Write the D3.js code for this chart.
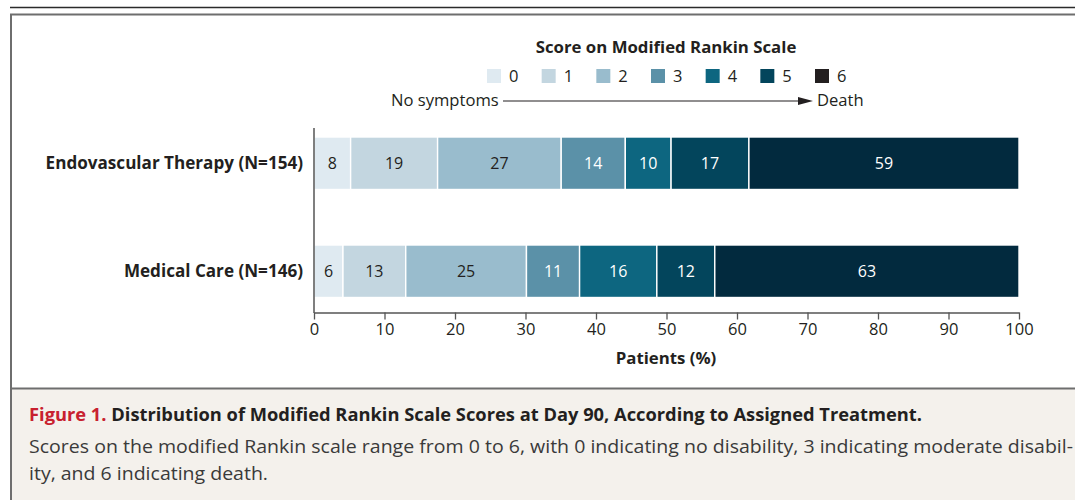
<!DOCTYPE html>
<html>
<head>
<meta charset="utf-8">
<script src="https://d3js.org/d3.v7.min.js"></script>
<style>
  html, body { margin: 0; padding: 0; background: #fff; }
  svg text { font-family: "Open Sans", "DejaVu Sans", sans-serif; fill: #231f20; }
</style>
</head>
<body>
<div id="chart"></div>
<script>
// data (counts of patients per mRS score)
const groups = ["Endovascular Therapy (N=154)", "Medical Care (N=146)"];
const totals = [154, 146];
const scores = [0, 1, 2, 3, 4, 5, 6];
const endovascular = [8, 19, 27, 14, 10, 17, 59];
const medical = [6, 13, 25, 11, 16, 12, 63];
const xTicks = [0, 10, 20, 30, 40, 50, 60, 70, 80, 90, 100];

const barColors = ["#dfeaf1", "#c3d6e0", "#99bccd", "#5b91a8", "#0d6680", "#03455c", "#022a3e"];
const legendColors = ["#dfeaf1", "#c3d6e0", "#99bccd", "#5b91a8", "#0d6680", "#03455c", "#231f20"];
const textColors = ["#231f20", "#231f20", "#231f20", "#fff", "#fff", "#fff", "#fff"];

const W = 1075, H = 500;
const svg = d3.select("#chart").append("svg")
    .attr("width", W).attr("height", H);

// frame
svg.append("line").attr("x1", 10).attr("x2", W).attr("y1", 7.5).attr("y2", 7.5)
    .attr("stroke", "#2b2b2b").attr("stroke-width", 1.6);
svg.append("rect").attr("x", 12).attr("y", 389).attr("width", W - 12).attr("height", H - 389)
    .attr("fill", "#f4f1ec");
svg.append("path").attr("d", `M${W},14.5 H11 V${H}`)
    .attr("fill", "none").attr("stroke", "#6e6e6e").attr("stroke-width", 2);
svg.append("line").attr("x1", 11).attr("x2", W).attr("y1", 388.5).attr("y2", 388.5)
    .attr("stroke", "#6e6e6e").attr("stroke-width", 2);

// scales
const x = d3.scaleLinear().domain([0, 100]).range([314, 1019]);
const y = d3.scaleBand().domain(groups).range([137, 297.5]).paddingInner(0.514).paddingOuter(0);

// stacked rows
const rows = [endovascular, medical].map((vals, gi) => {
  let acc = 0;
  return vals.map((v, si) => {
    const p = v / totals[gi] * 100;
    const seg = { group: groups[gi], score: scores[si], value: v, x0: acc, x1: acc + p };
    acc += p;
    return seg;
  });
});

const bars = svg.append("g");
rows.forEach(row => {
  const g = bars.append("g");
  g.selectAll("rect").data(row).enter().append("rect")
      .attr("x", d => x(d.x0))
      .attr("y", d => y(d.group))
      .attr("width", d => x(d.x1) - x(d.x0))
      .attr("height", y.bandwidth())
      .attr("fill", d => barColors[d.score])
      .attr("stroke", "#fff").attr("stroke-width", 1.4);
  g.selectAll("text").data(row).enter().append("text")
      .attr("x", d => (x(d.x0) + x(d.x1)) / 2)
      .attr("y", d => y(d.group) + y.bandwidth() / 2 + 6)
      .attr("text-anchor", "middle")
      .style("font-size", "16px")
      .style("fill", d => textColors[d.score])
      .text(d => d.value);
});

// row labels
svg.selectAll(".rowlab").data(groups).enter().append("text")
    .attr("class", "rowlab")
    .attr("x", 303)
    .attr("y", d => y(d) + y.bandwidth() / 2 + 6)
    .attr("text-anchor", "end")
    .style("font-size", "17.1px").style("font-weight", 700)
    .text(d => d);

// axes
svg.append("line").attr("x1", 314).attr("x2", 314).attr("y1", 128).attr("y2", 313)
    .attr("stroke", "#555").attr("stroke-width", 1.5);
const ax = svg.append("g").attr("transform", "translate(0,312.5)")
    .call(d3.axisBottom(x).tickValues(xTicks).tickSize(7).tickSizeOuter(0).tickPadding(4));
ax.select(".domain").attr("stroke", "#555").attr("stroke-width", 1.5);
ax.selectAll(".tick line").attr("stroke", "#555").attr("stroke-width", 1.3);
ax.selectAll(".tick text").style("font-size", "16.5px").style("font-family", "\"Open Sans\", sans-serif")
    .attr("fill", "#231f20");
svg.append("text").attr("x", 666).attr("y", 364).attr("text-anchor", "middle")
    .style("font-size", "16.8px").style("font-weight", 700).text("Patients (%)");

// legend
svg.append("text").attr("x", 666).attr("y", 53).attr("text-anchor", "middle")
    .style("font-size", "16.8px").style("font-weight", 700).text("Score on Modified Rankin Scale");
const lx = d3.scaleLinear().domain([0, 6]).range([487, 815]);
const leg = svg.append("g").selectAll("g").data(scores).enter().append("g");
leg.append("rect").attr("x", d => lx(d)).attr("y", 69).attr("width", 14).attr("height", 14)
    .attr("fill", d => legendColors[d]);
leg.append("text").attr("x", d => lx(d) + 22).attr("y", 82)
    .style("font-size", "16.5px").text(d => d);

svg.append("text").attr("x", 391).attr("y", 106).style("font-size", "16.6px").text("No symptoms");
svg.append("line").attr("x1", 503).attr("x2", 800).attr("y1", 101).attr("y2", 101)
    .attr("stroke", "#231f20").attr("stroke-width", 1.2);
svg.append("path").attr("d", "M798,97 L813,101 L798,105 Z").attr("fill", "#231f20");
svg.append("text").attr("x", 817).attr("y", 106).style("font-size", "16.6px").text("Death");

// caption
const cap = svg.append("text").attr("x", 29).attr("y", 421)
    .attr("textLength", 893).attr("lengthAdjust", "spacingAndGlyphs")
    .style("font-size", "18.3px").style("font-weight", 700);
cap.append("tspan").style("fill", "#c8202f").text("Figure 1. ");
cap.append("tspan").text("Distribution of Modified Rankin Scale Scores at Day 90, According to Assigned Treatment.");
svg.append("text").attr("x", 29).attr("y", 453)
    .attr("textLength", 1044).attr("lengthAdjust", "spacingAndGlyphs")
    .style("font-size", "18px").style("fill", "#3a3a3a")
    .text("Scores on the modified Rankin scale range from 0 to 6, with 0 indicating no disability, 3 indicating moderate disabil-");
svg.append("text").attr("x", 29).attr("y", 480)
    .attr("textLength", 239).attr("lengthAdjust", "spacingAndGlyphs")
    .style("font-size", "18px").style("fill", "#3a3a3a")
    .text("ity, and 6 indicating death.");
</script>
</body>
</html>
